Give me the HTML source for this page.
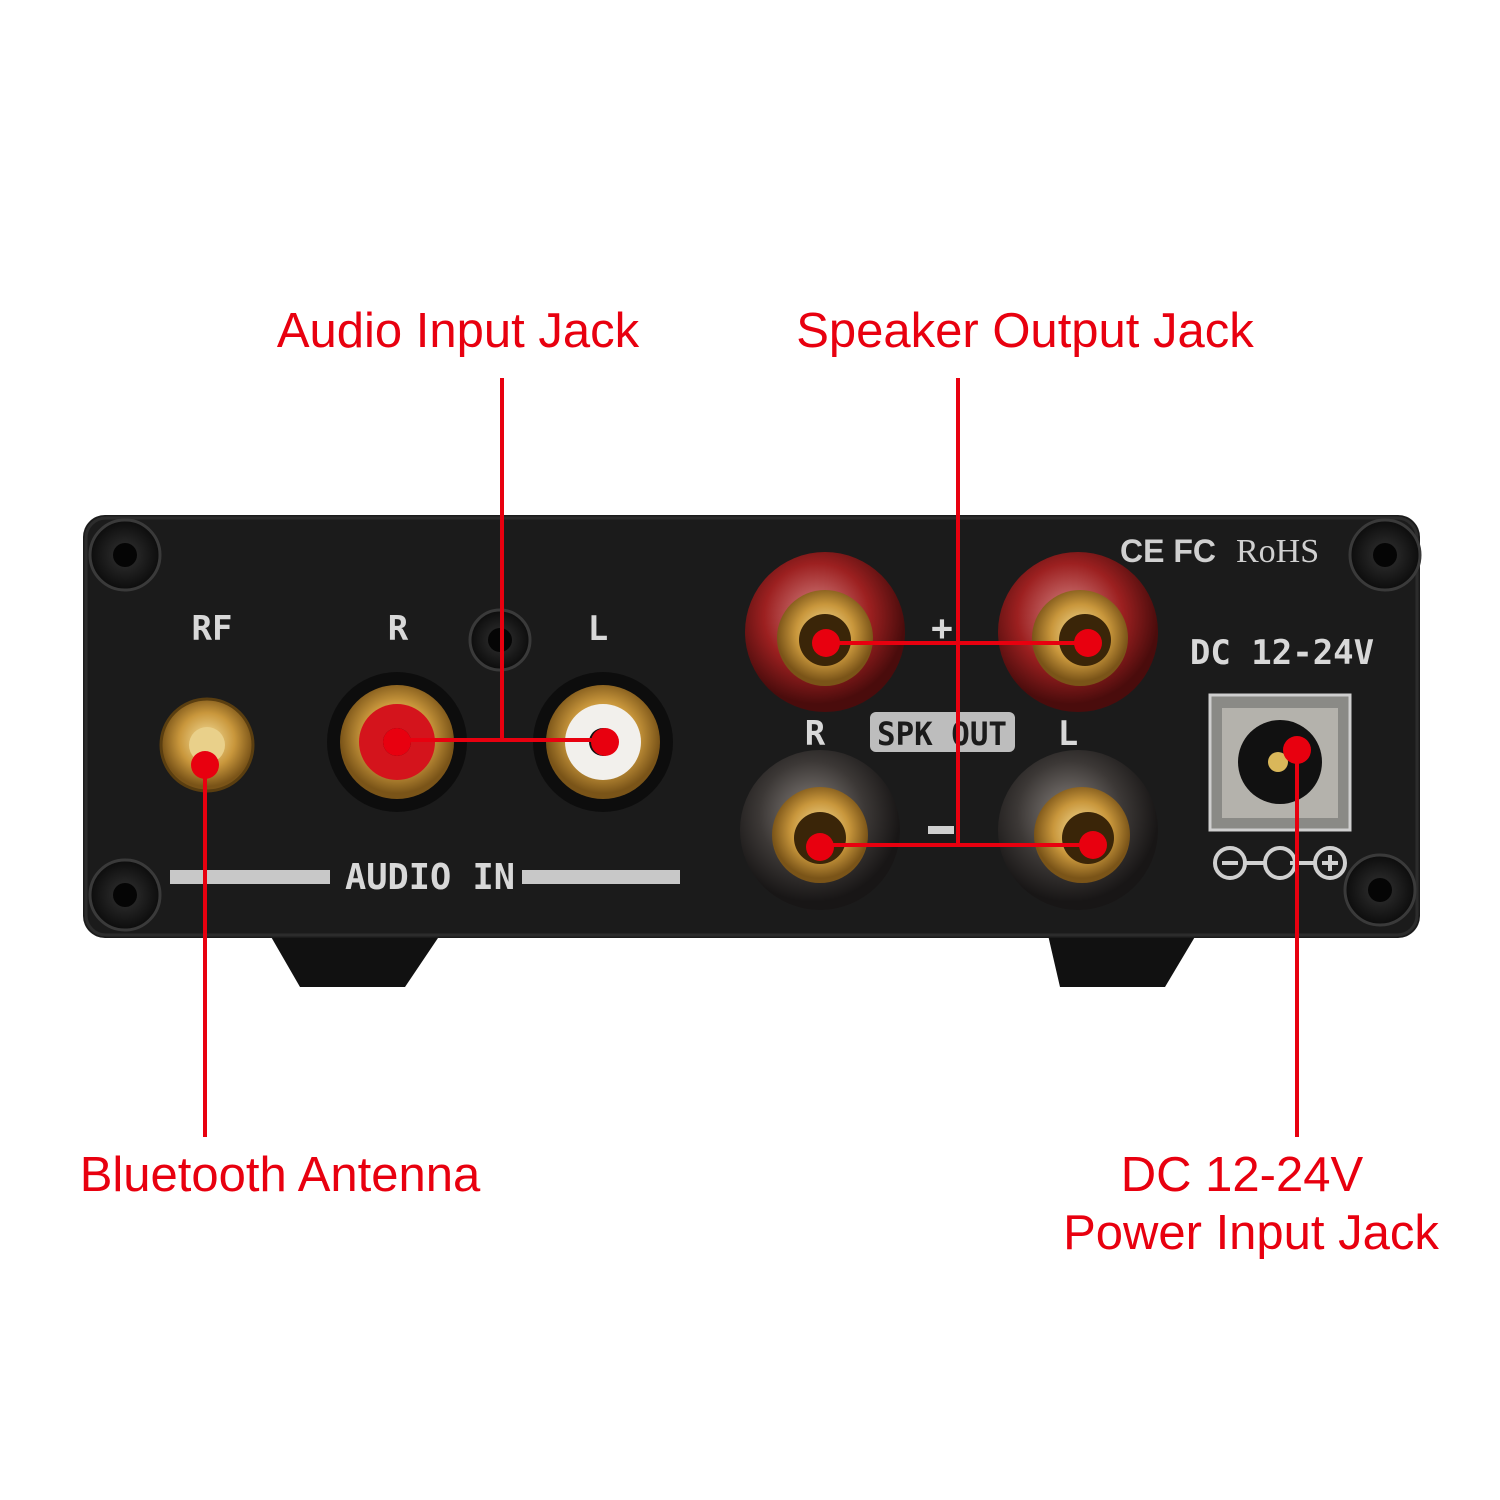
<!DOCTYPE html>
<html><head><meta charset="utf-8"><style>
html,body{margin:0;padding:0;background:#fff;}
svg{display:block;}
</style></head><body>
<svg width="1500" height="1500" viewBox="0 0 1500 1500" xmlns="http://www.w3.org/2000/svg" font-family="Liberation Sans, sans-serif">
<defs>
<radialGradient id="gold" cx="50%" cy="45%" r="50%"><stop offset="0" stop-color="#f6e2a0"/><stop offset="0.6" stop-color="#c9973c"/><stop offset="1" stop-color="#7a5418"/></radialGradient>
<radialGradient id="redp" cx="45%" cy="40%" r="55%"><stop offset="0" stop-color="#d88a8a"/><stop offset="0.6" stop-color="#9c2020"/><stop offset="1" stop-color="#4a0c0c"/></radialGradient>
<radialGradient id="darkp" cx="45%" cy="40%" r="55%"><stop offset="0" stop-color="#8a8480"/><stop offset="0.6" stop-color="#3c3836"/><stop offset="1" stop-color="#181616"/></radialGradient>
<radialGradient id="screw" cx="50%" cy="50%" r="50%"><stop offset="0" stop-color="#333"/><stop offset="1" stop-color="#0c0c0c"/></radialGradient>
</defs>
<polygon points="270,935 440,935 405,987 300,987" fill="#111"/>
<polygon points="1048,935 1196,935 1165,987 1060,987" fill="#111"/>
<rect x="83" y="515" width="1337" height="423" rx="22" fill="#1b1b1b"/>
<rect x="86" y="518" width="1331" height="417" rx="20" fill="none" stroke="#2c2c2c" stroke-width="3"/>
<g fill="url(#screw)" stroke="#3a3a3a" stroke-width="3">
<circle cx="125" cy="555" r="35"/><circle cx="1385" cy="555" r="35"/>
<circle cx="125" cy="895" r="35"/><circle cx="1380" cy="890" r="35"/>
<circle cx="500" cy="640" r="30"/>
</g>
<g fill="#050505"><circle cx="125" cy="555" r="12"/><circle cx="1385" cy="555" r="12"/><circle cx="125" cy="895" r="12"/><circle cx="1380" cy="890" r="12"/><circle cx="500" cy="640" r="12"/></g>
<g fill="#d8d8d8" font-weight="bold" font-family="DejaVu Sans Mono, Liberation Mono, monospace">
<text x="212" y="640" font-size="34" text-anchor="middle">RF</text>
<text x="398" y="640" font-size="34" text-anchor="middle">R</text>
<text x="598" y="640" font-size="34" text-anchor="middle">L</text>
<text x="430" y="889" font-size="36" text-anchor="middle" textLength="170" lengthAdjust="spacingAndGlyphs">AUDIO IN</text>
<text x="815" y="745" font-size="34" text-anchor="middle">R</text>
<text x="1068" y="745" font-size="34" text-anchor="middle">L</text>
<text x="942" y="640" font-size="36" text-anchor="middle">+</text>
<text x="1282" y="664" font-size="34" text-anchor="middle">DC 12-24V</text>
</g>
<rect x="170" y="870" width="160" height="14" fill="#c8c8c8"/>
<rect x="522" y="870" width="158" height="14" fill="#c8c8c8"/>
<rect x="870" y="712" width="145" height="40" rx="6" fill="#bdbdbd"/>
<text x="942" y="745" font-size="32" font-weight="bold" text-anchor="middle" fill="#1b1b1b" font-family="DejaVu Sans Mono, monospace" textLength="130" lengthAdjust="spacingAndGlyphs">SPK OUT</text>
<rect x="928" y="826" width="26" height="8" fill="#cfcfcf"/>
<text x="1120" y="562" font-size="32" fill="#d0d0d0" font-weight="bold">CE FC</text>
<text x="1236" y="562" font-size="34" fill="#d0d0d0" font-family="Liberation Serif, serif">RoHS</text>
<circle cx="207" cy="745" r="46" fill="url(#gold)" stroke="#5a3e10" stroke-width="3"/>
<circle cx="207" cy="745" r="18" fill="#e9d08a"/>
<circle cx="397" cy="742" r="70" fill="#0d0d0d"/>
<circle cx="397" cy="742" r="57" fill="url(#gold)"/>
<circle cx="397" cy="742" r="38" fill="#d4141c"/>
<circle cx="397" cy="742" r="14" fill="#111"/>
<circle cx="603" cy="742" r="70" fill="#0d0d0d"/>
<circle cx="603" cy="742" r="57" fill="url(#gold)"/>
<circle cx="603" cy="742" r="38" fill="#f2f0ec"/>
<circle cx="603" cy="742" r="14" fill="#111"/>
<g>
<circle cx="825" cy="632" r="80" fill="url(#redp)"/><circle cx="825" cy="638" r="48" fill="url(#gold)"/><circle cx="825" cy="640" r="26" fill="#3a2508"/>
<circle cx="1078" cy="632" r="80" fill="url(#redp)"/><circle cx="1080" cy="638" r="48" fill="url(#gold)"/><circle cx="1085" cy="640" r="26" fill="#3a2508"/>
<circle cx="820" cy="830" r="80" fill="url(#darkp)"/><circle cx="820" cy="835" r="48" fill="url(#gold)"/><circle cx="820" cy="838" r="26" fill="#3a2508"/>
<circle cx="1078" cy="830" r="80" fill="url(#darkp)"/><circle cx="1082" cy="835" r="48" fill="url(#gold)"/><circle cx="1088" cy="838" r="26" fill="#3a2508"/>
</g>
<rect x="1210" y="695" width="140" height="135" fill="#8a8a86" stroke="#cfcfcf" stroke-width="3"/>
<rect x="1222" y="708" width="116" height="110" fill="#b4b2ac"/>
<circle cx="1280" cy="762" r="42" fill="#111"/>
<circle cx="1278" cy="762" r="10" fill="#d9b75a"/>
<g stroke="#d0d0d0" stroke-width="4" fill="none">
<circle cx="1230" cy="863" r="15"/><circle cx="1280" cy="863" r="15"/><circle cx="1330" cy="863" r="15"/>
<line x1="1245" y1="863" x2="1266" y2="863"/><line x1="1290" y1="863" x2="1315" y2="863"/>
<line x1="1222" y1="863" x2="1238" y2="863"/><line x1="1322" y1="863" x2="1338" y2="863"/><line x1="1330" y1="855" x2="1330" y2="871"/>
</g>
<g stroke="#e8000f" stroke-width="4" fill="none">
<line x1="502" y1="378" x2="502" y2="740"/>
<line x1="397" y1="740" x2="605" y2="740"/>
<line x1="958" y1="378" x2="958" y2="845"/>
<line x1="826" y1="643" x2="1088" y2="643"/>
<line x1="820" y1="845" x2="1093" y2="845"/>
<line x1="205" y1="765" x2="205" y2="1137"/>
<line x1="1297" y1="750" x2="1297" y2="1137"/>
</g>
<g fill="#e8000f">
<circle cx="397" cy="742" r="14"/><circle cx="605" cy="742" r="14"/>
<circle cx="826" cy="643" r="14"/><circle cx="1088" cy="643" r="14"/>
<circle cx="820" cy="847" r="14"/><circle cx="1093" cy="845" r="14"/>
<circle cx="205" cy="765" r="14"/><circle cx="1297" cy="750" r="14"/>
</g>
<g fill="#e8000f" font-size="49">
<text x="458" y="347" text-anchor="middle">Audio Input Jack</text>
<text x="1025" y="347" text-anchor="middle">Speaker Output Jack</text>
<text x="280" y="1191" text-anchor="middle">Bluetooth Antenna</text>
<text x="1242" y="1191" text-anchor="middle">DC 12-24V</text>
<text x="1251" y="1249" text-anchor="middle">Power Input Jack</text>
</g>
</svg>
</body></html>
